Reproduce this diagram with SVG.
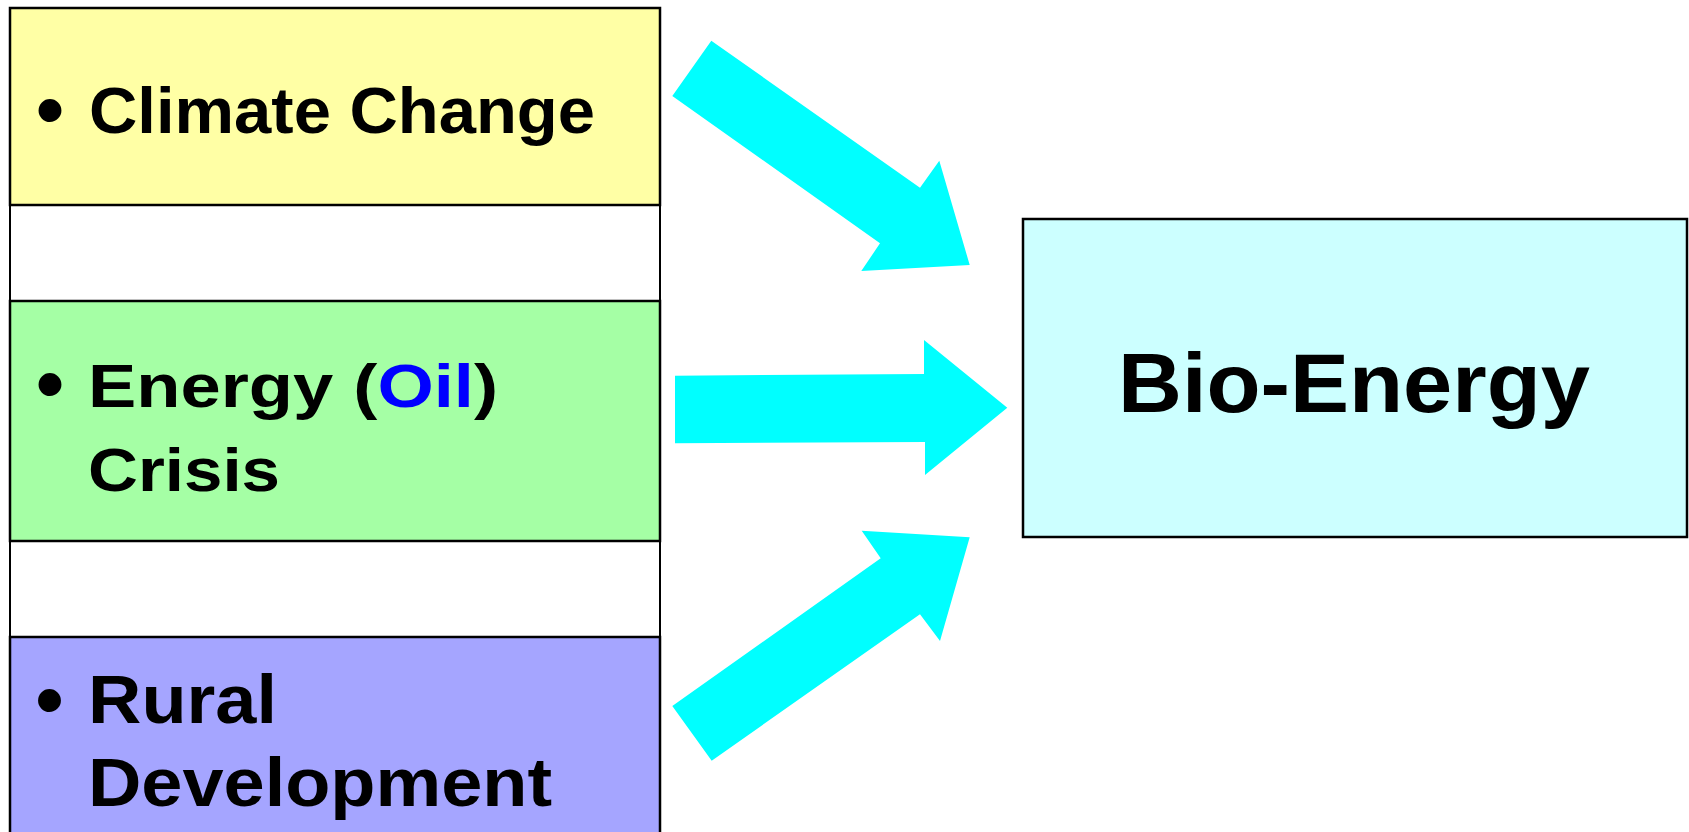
<svg xmlns="http://www.w3.org/2000/svg" width="1689" height="832" viewBox="0 0 1689 832">
<style>
.t{font-family:"Liberation Sans",Arial,sans-serif;font-weight:bold;fill:#000}
.b{font-family:"Liberation Sans",Arial,sans-serif;font-weight:bold;fill:#000;font-size:80px}
.box{stroke:#000;stroke-width:2.5}
.arrow{fill:#00FFFF;stroke:none}
</style>
<rect x="0" y="0" width="1689" height="832" fill="#fff"/>
<g id="column">
<rect x="10" y="8" width="650" height="830" fill="#fff" stroke="#000" stroke-width="2"/>
</g>
<g id="climate">
<rect class="box" x="10" y="8" width="650" height="197" fill="#FFFFA5"/>
<text class="b" x="36" y="136.7">•</text>
<text class="t" x="89" y="133" font-size="65" textLength="506" lengthAdjust="spacingAndGlyphs">Climate Change</text>
</g>
<g id="energy">
<rect class="box" x="10" y="301" width="650" height="240" fill="#A5FFA5"/>
<text class="b" x="36" y="411.4">•</text>
<text class="t" x="88" y="407" font-size="62" textLength="410" lengthAdjust="spacingAndGlyphs">Energy (<tspan fill="#0000FF">Oil</tspan>)</text>
<text class="t" x="88" y="491" font-size="62" textLength="192" lengthAdjust="spacingAndGlyphs">Crisis</text>
</g>
<g id="rural">
<rect class="box" x="10" y="637" width="650" height="200" fill="#A5A5FF"/>
<text class="b" x="35.5" y="726.7">•</text>
<text class="t" x="88" y="723" font-size="69" textLength="189" lengthAdjust="spacingAndGlyphs">Rural</text>
<text class="t" x="88" y="806" font-size="69" textLength="464" lengthAdjust="spacingAndGlyphs">Development</text>
</g>
<g id="bioenergy">
<rect class="box" x="1023" y="219" width="664" height="318" fill="#CCFFFF"/>
<text class="t" x="1118" y="412" font-size="84" textLength="472" lengthAdjust="spacingAndGlyphs">Bio-Energy</text>
</g>
<g id="connectors">
<polygon class="arrow" points="711.3,40.7 920,187.7 939.3,160.7 969.7,265 861.3,271 880,243.3 672.3,96"/>
<polygon class="arrow" points="675,375.7 924,374 924,340 1007.3,407.7 925,475 925,442 675,443.3"/>
<polygon class="arrow" points="672.3,706 880.7,558.3 861.7,530.7 969.7,537.3 940,641 920,614.3 711.7,760.7"/>
</g>
</svg>
